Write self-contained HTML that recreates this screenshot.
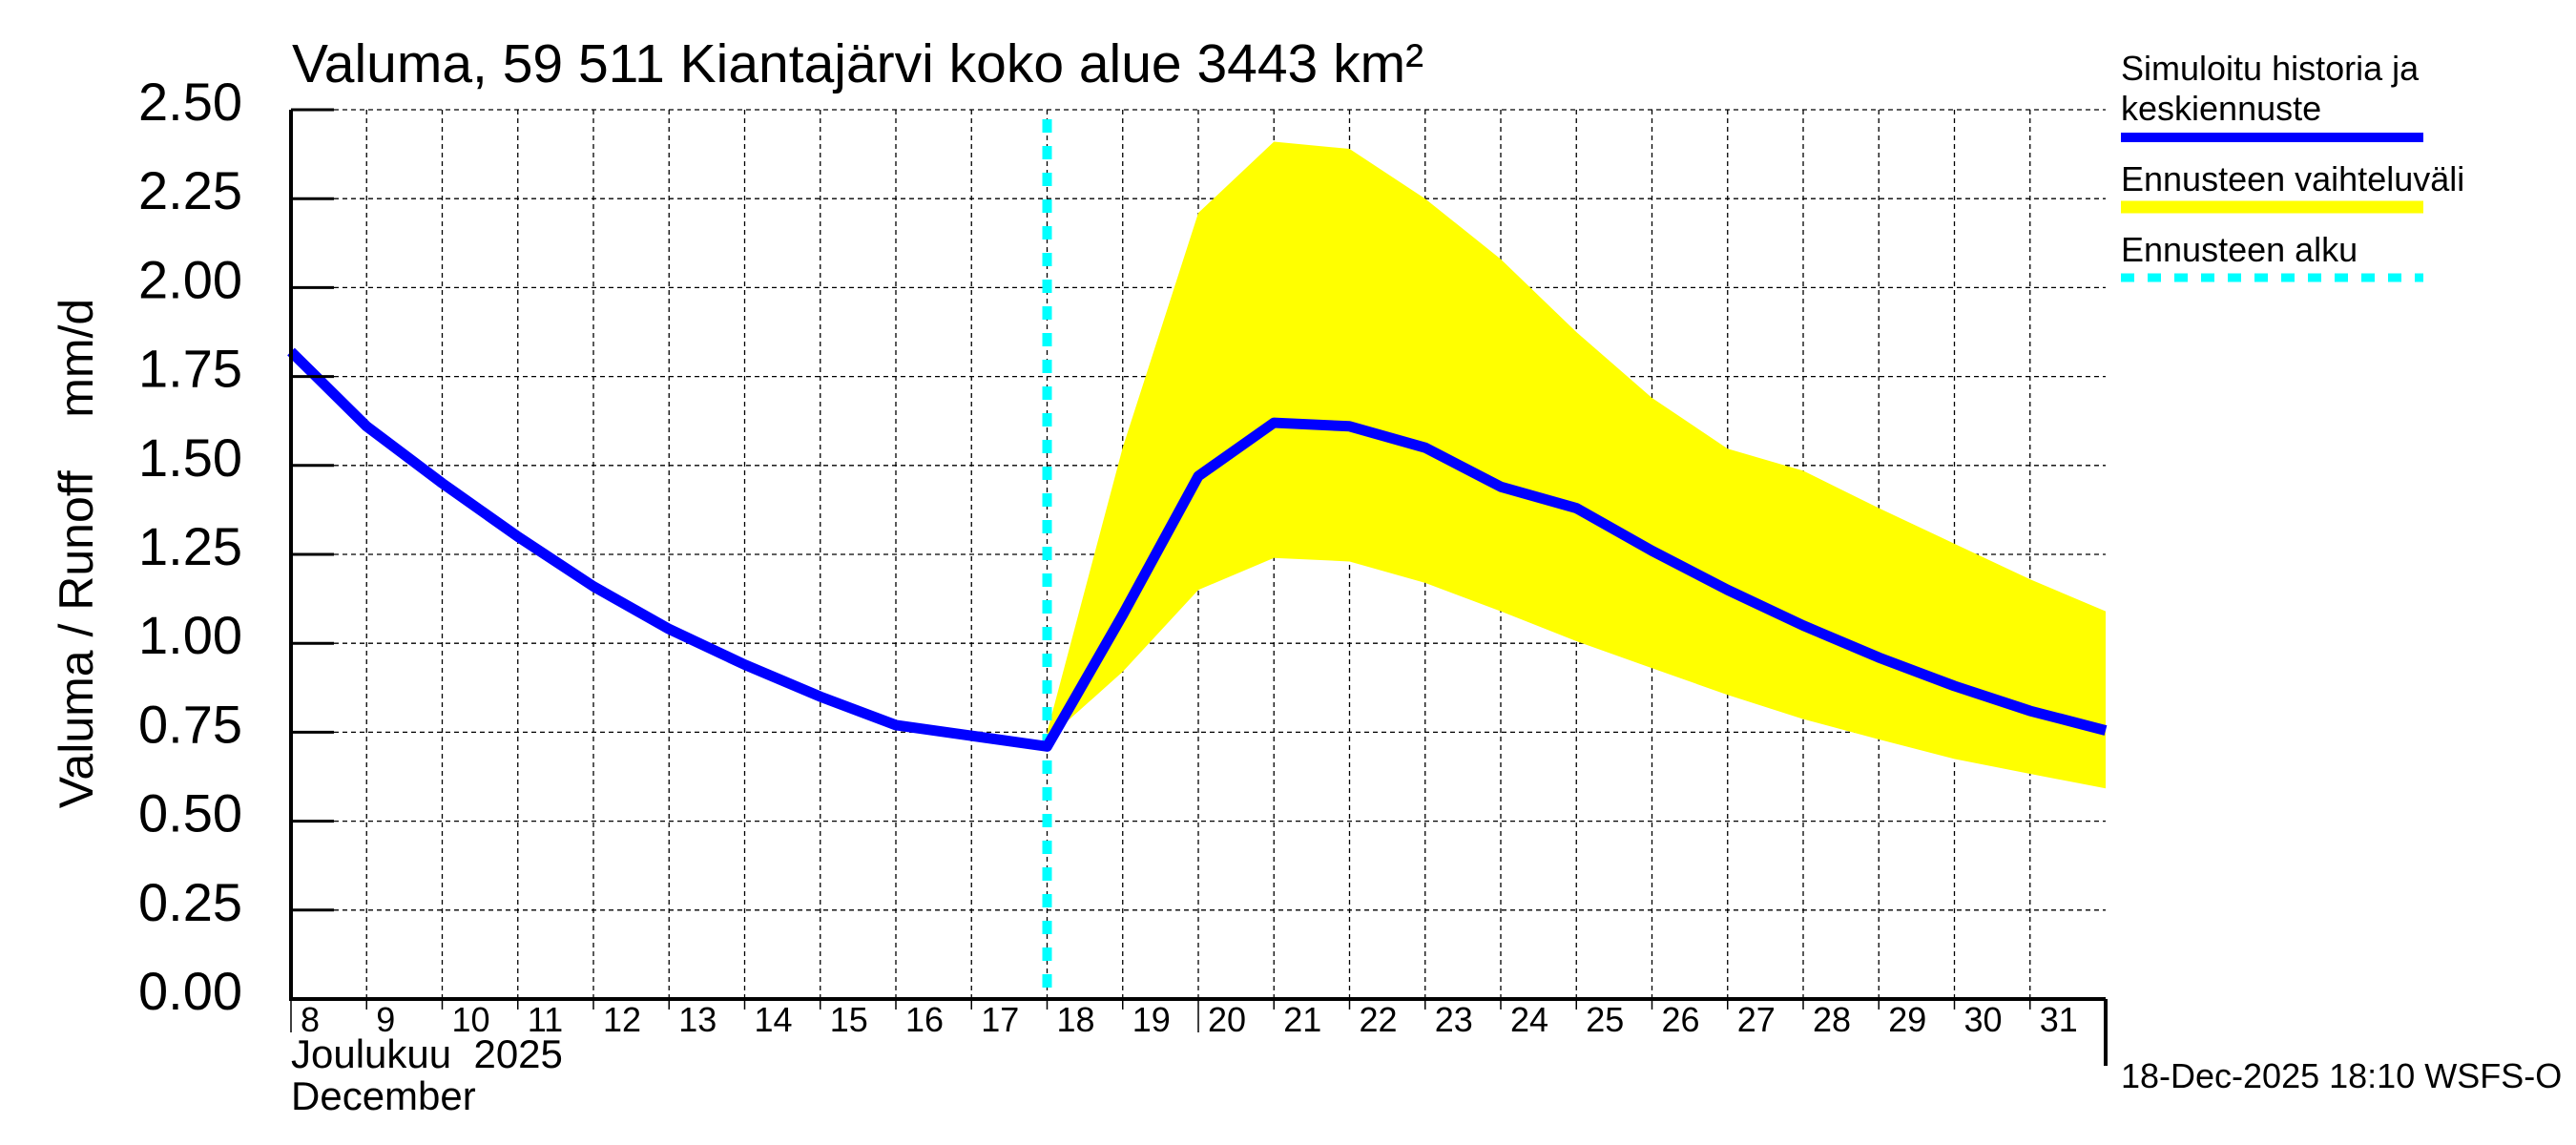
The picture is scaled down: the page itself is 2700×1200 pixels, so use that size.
<!DOCTYPE html>
<html><head><meta charset="utf-8"><style>
html,body{margin:0;padding:0;background:#fff;}
svg{display:block;font-family:"Liberation Sans",sans-serif;}
text{white-space:pre;}
</style></head><body>
<svg id="chart" width="2700" height="1200" viewBox="0 0 2700 1200">
<rect width="2700" height="1200" fill="#fff"/>
<text x="306" y="86" font-size="57">Valuma, 59 511 Kiantajärvi koko alue 3443 km²</text>
<g id="grid"></g>
<g id="band"></g>
<g id="lines"></g>
<g id="axes"></g>
<text transform="translate(97,580) rotate(-90)" text-anchor="middle" font-size="50">Valuma / Runoff&#160;&#160;&#160;&#160;mm/d</text>
<text x="305" y="1119" font-size="42">Joulukuu&#160;&#160;2025</text>
<text x="305" y="1163" font-size="42">December</text>
<g>
<text x="2223" y="84" font-size="36">Simuloitu historia ja</text>
<text x="2223" y="126" font-size="36">keskiennuste</text>
<line x1="2223" y1="144" x2="2540" y2="144" stroke="#0000ff" stroke-width="10"/>
<text x="2223" y="200" font-size="36">Ennusteen vaihteluväli</text>
<line x1="2223" y1="217" x2="2540" y2="217" stroke="#ffff00" stroke-width="13"/>
<text x="2223" y="274" font-size="36">Ennusteen alku</text>
<line x1="2223" y1="291" x2="2540" y2="291" stroke="#00ffff" stroke-width="9" stroke-dasharray="14,14"/>
</g>
<text x="2223" y="1140" font-size="36">18-Dec-2025 18:10 WSFS-O</text>
</svg>
<script>
const dayLabels = [8,9,10,11,12,13,14,15,16,17,18,19,20,21,22,23,24,25,26,27,28,29,30,31];
const yTicks = [0,0.25,0.5,0.75,1.0,1.25,1.5,1.75,2.0,2.25,2.5];
const simValues = [1.82,1.61,1.45,1.30,1.16,1.04,0.94,0.85,0.77,0.74,0.71,1.08,1.47,1.62,1.61,1.55,1.44,1.38,1.26,1.15,1.05,0.96,0.88,0.81,0.755];
const upperValues = [0.75,1.55,2.21,2.41,2.39,2.25,2.08,1.875,1.69,1.547,1.485,1.38,1.28,1.18,1.09];
const lowerValues = [0.73,0.92,1.15,1.24,1.23,1.17,1.09,1.006,0.93,0.855,0.787,0.73,0.675,0.633,0.592];
const forecastStart = 10;
const X0=305, X1=2207, Y0=1047, Y1=115, NDAYS=24;
const xs = d => X0 + d*(X1-X0)/NDAYS;
const ys = v => Y0 - v*(Y0-Y1)/2.5;
const NS="http://www.w3.org/2000/svg";
function mk(tag, attrs, parent){const e=document.createElementNS(NS,tag);for(const k in attrs)e.setAttribute(k,attrs[k]);document.getElementById(parent).appendChild(e);return e;}
yTicks.forEach((t)=>{
  const g=mk('line',{x1:X0,x2:X1,y1:ys(t),y2:ys(t),stroke:'#000','stroke-width':1.3,'stroke-dasharray':'5,4'},'grid');
  
  
  const tk=mk('line',{x1:X0,x2:X0+45,y1:ys(t),y2:ys(t),stroke:'#000','stroke-width':3},'axes');
  
  
  const lb=mk('text',{x:254,y:ys(t)+11,'text-anchor':'end','font-size':56},'axes');
  lb.textContent=t.toFixed(2);
  
  
});
dayLabels.forEach((d,i)=>{
  const x=xs(i);
  const g=mk('line',{x1:x,x2:x,y1:Y1,y2:Y0,stroke:'#000','stroke-width':1.3,'stroke-dasharray':'5,4'},'grid');
  
  
  const tk=mk('line',{x1:x,x2:x,y1:Y0,y2:(i==12||i==0)?1082:1058,stroke:'#000','stroke-width':1.5},'axes');
  
  
  const lb=mk('text',{x:x+10,y:1081,'font-size':36},'axes');
  lb.textContent=d;
  
  
});
let pts=upperValues.map((v,i)=>xs(forecastStart+i)+','+ys(v));
pts=pts.concat(lowerValues.map((v,i)=>xs(forecastStart+i)+','+ys(v)).reverse());
const band=mk('polygon',{points:pts.join(' '),fill:'#ffff00'},'band');


const fs=mk('line',{x1:xs(forecastStart),x2:xs(forecastStart),y1:125,y2:Y0,stroke:'#00ffff','stroke-width':10,'stroke-dasharray':'14,14'},'lines');


const sim=mk('polyline',{points:simValues.map((v,i)=>xs(i)+','+ys(v)).join(' '),fill:'none',stroke:'#0000ff','stroke-width':11,'stroke-linejoin':'round'},'lines');


const ax=mk('path',{d:`M${X0},${Y1} V${Y0} H${X1} M${X1},${Y0} V1117`,fill:'none',stroke:'#000','stroke-width':4},'axes');


</script>
</body></html>
